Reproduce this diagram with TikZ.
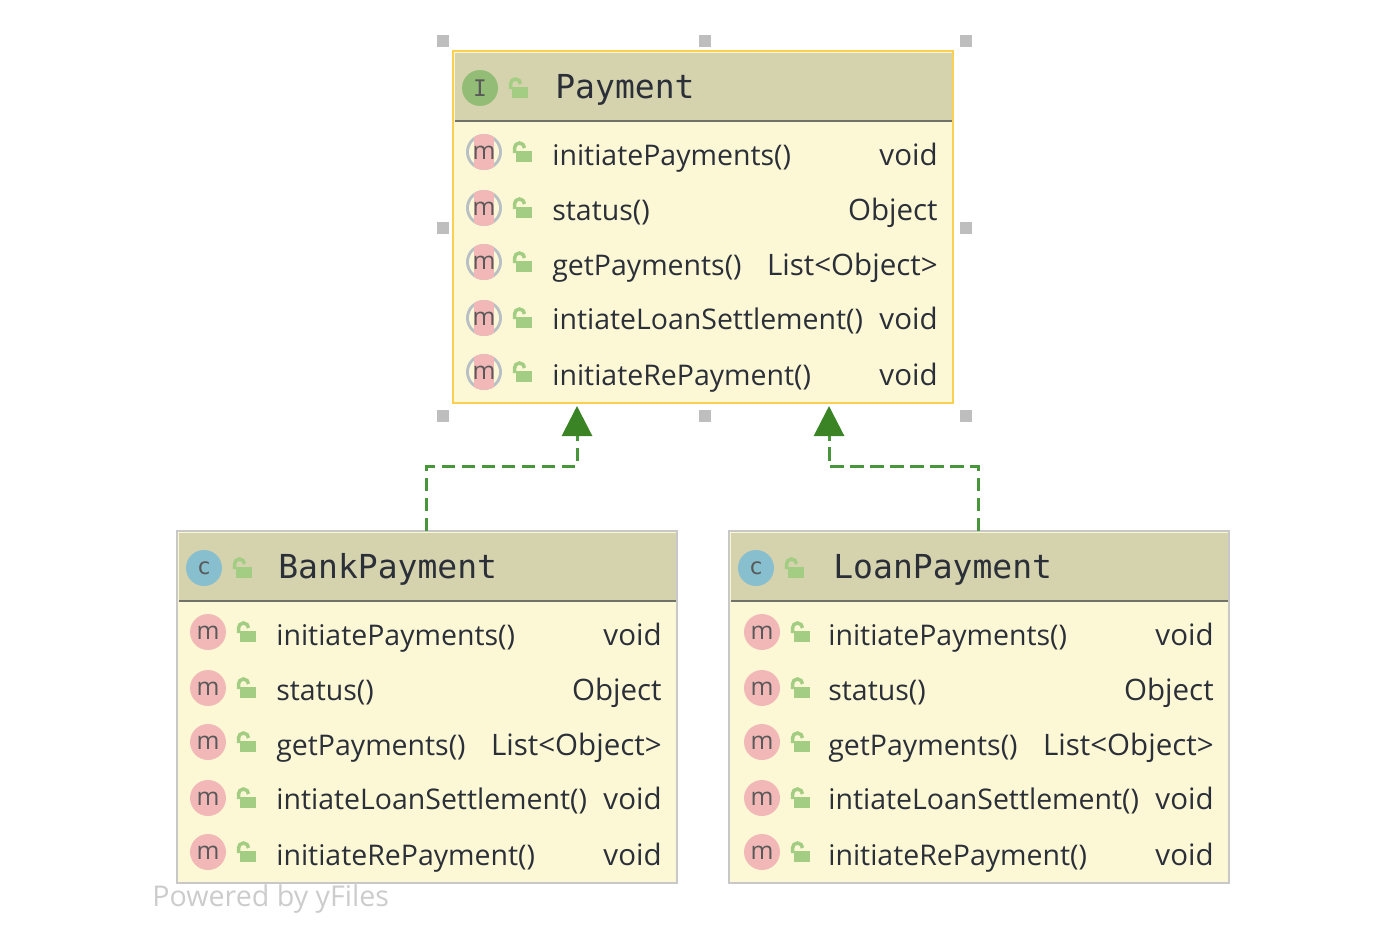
\documentclass[tikz,border=0pt]{standalone}
\usepackage{fontspec}
\setmainfont{Open Sans}
\setmonofont{DejaVu Sans Mono}
\usetikzlibrary{arrows.meta}

\definecolor{headfill}{HTML}{D5D3AE}
\definecolor{bodyfill}{HTML}{FCF8D6}
\definecolor{selborder}{HTML}{FBCF52}
\definecolor{plainborder}{HTML}{C8C8C8}
\definecolor{headline}{HTML}{72726A}
\definecolor{handlegray}{HTML}{BEBEBE}
\definecolor{linkgreen}{HTML}{47973A}
\definecolor{tipgreen}{HTML}{3A8425}
\definecolor{lockgreen}{HTML}{A2CD82}
\definecolor{ifacegreen}{HTML}{93BD76}
\definecolor{classblue}{HTML}{87BFCF}
\definecolor{methpink}{HTML}{F2B8B8}
\definecolor{ringgray}{HTML}{B8C0C6}
\definecolor{textdark}{HTML}{2B2F38}

\tikzset{
  classbox/.style={rectangle, line width=0.055cm, fill=bodyfill, minimum width=10cm, minimum height=7.04cm, inner sep=0pt, outer sep=0pt, anchor=north west},
  titlelabel/.style={anchor=base west, inner sep=0pt, text=textdark, font=\ttfamily\fontsize{18.8}{22}\selectfont},
  memberlabel/.style={anchor=base west, inner sep=0pt, text=textdark, font=\fontsize{16.2}{20}\selectfont},
  typelabel/.style={memberlabel, anchor=base east, font=\fontsize{16.8}{20}\selectfont},
  typeicon/.style={circle, minimum size=0.72cm, inner sep=0pt, text=black!65, font=\ttfamily\fontsize{13}{14}\selectfont},
  methicon/.style={circle, fill=methpink, minimum size=0.72cm, inner sep=0pt, text=black!65, text height=0.28cm, font=\fontsize{14}{14}\selectfont},
  methiconsel/.style={methicon, fill=ringgray,
    path picture={
      \fill[bodyfill] (path picture bounding box.center) circle [radius=0.3cm];
      \fill[methpink] ([xshift=-0.2cm]path picture bounding box.south) rectangle ([xshift=0.2cm]path picture bounding box.north);}},
  handle/.style={rectangle, fill=handlegray, minimum size=0.24cm, inner sep=0pt},
  realizes/.style={draw=linkgreen, line width=0.06cm, dash pattern=on 0.27cm off 0.13cm, -{Triangle[length=0.6cm, width=0.6cm, color=tipgreen]}},
  lockicon/.pic={
    \fill[lockgreen] (-6,-1) rectangle (10,10);
    \draw[lockgreen, line width=0.07cm] (-7.5,1) -- (-7.5,-4) arc [start angle=180, end angle=360, radius=5];
  }
}

\begin{document}
\begin{tikzpicture}[x=0.02cm, y=-0.02cm]
  \useasboundingbox (0,0) rectangle (1396,940);

  % the three boxes
  \foreach \cid/\cx/\cy/\ctitle/\bcol/\letter/\lcol/\mstyle/\hx/\hl/\tx/\mx/\lx in {
      payment/453/51/Payment/selborder/I/ifacegreen/methiconsel/27/65/102/31/69,
      bank/177/531/BankPayment/plainborder/c/classblue/methicon/27/65/101/31/69,
      loan/729/531/LoanPayment/plainborder/c/classblue/methicon/27/65/104/33/71} {
    \begin{scope}[shift={(\cx,\cy)}]
      \node[classbox, draw=\bcol] (\cid) at (0,0) {};
      \fill[headfill] (1.5,1.5) rectangle (498.5,70);
      \draw[headline, line width=0.04cm] (1.5,70) -- (498.5,70);
      \node[typeicon, fill=\lcol] (\cid-icon) at (\hx,37) {\letter};
      \pic at (\hl,37) {lockicon};
      \node[titlelabel] (\cid-title) at (\tx,47) {\ctitle};
      \foreach \i/\meth/\ret/\by/\iy in {
          1/initiatePayments()/void/114/101,
          2/status()/Object/169/157,
          3/getPayments()/List<Object>/224/211,
          4/intiateLoanSettlement()/void/278/267,
          5/initiateRePayment()/void/334/321} {
        \node[\mstyle] (\cid-m\i) at (\mx,\iy) {m};
        \pic at (\lx,\iy) {lockicon};
        \node[memberlabel] (\cid-name\i) at (99,\by) {\meth};
        \node[typelabel] (\cid-type\i) at (485,\by) {\ret};
      }
    \end{scope}
  }

  % selection handles
  \foreach \hname/\hx/\hy in {a/443/41, b/705/41, c/966/41, d/443/228, e/966/228, f/443/416, g/705/416, h/966/416}
    \node[handle] (handle-\hname) at (\hx,\hy) {};

  % links up to Payment
  \coordinate (bankin) at (577,406);
  \coordinate (bankbend) at (577,466);
  \coordinate (loanin) at (829,406);
  \coordinate (loanbend) at (829,466);
  \draw[realizes] (bank.north) |- (bankbend) -- (bankin);
  \draw[realizes] (loan.north) |- (loanbend) -- (loanin);

  \node[anchor=base west, inner sep=0pt, text=gray!40, font=\fontsize{16.3}{20}\selectfont] (poweredby) at (152,906) {Powered by yFiles};
\end{tikzpicture}
\end{document}
